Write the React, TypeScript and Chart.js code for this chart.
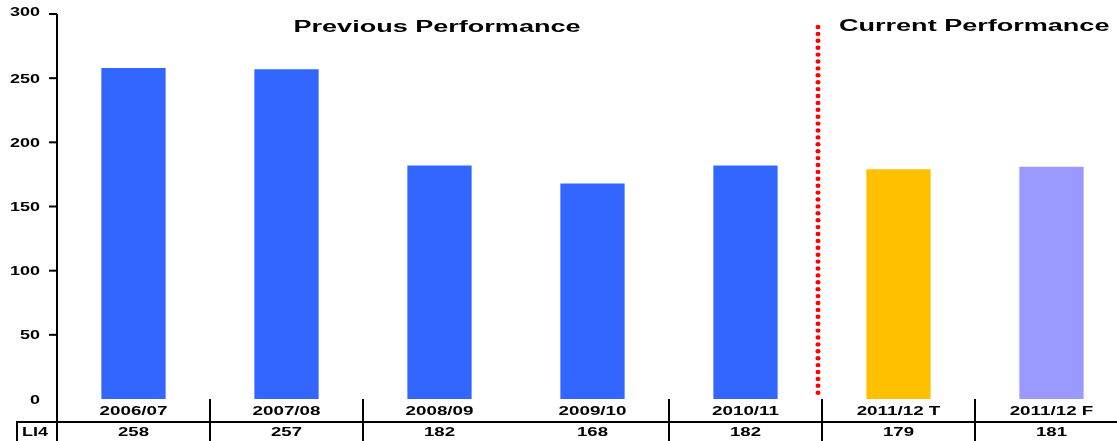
import React, { useEffect, useRef } from "react";
import { Chart, registerables } from "chart.js";

Chart.register(...registerables);

const categories = ["2006/07", "2007/08", "2008/09", "2009/10", "2010/11", "2011/12 T", "2011/12 F"];
const values = [258, 257, 182, 168, 182, 179, 181];
const barColors = ["#3366FF", "#3366FF", "#3366FF", "#3366FF", "#3366FF", "#FFC000", "#9999FF"];
const yTicks = [0, 50, 100, 150, 200, 250, 300];
const rowLabel = "LI4";
const previousTitle = "Previous Performance";
const currentTitle = "Current Performance";
const skippedSeparators = [2];
const splitAfterIndex = 4;

const FONT = "'Liberation Sans', Arial, sans-serif";

function drawStretched(ctx: CanvasRenderingContext2D, text: string, x: number, y: number, sx: number, align: CanvasTextAlign) {
  ctx.save();
  ctx.translate(x, y);
  ctx.scale(sx, 1);
  ctx.textAlign = align;
  ctx.textBaseline = "middle";
  ctx.fillText(text, 0, 0);
  ctx.restore();
}

const tablePlugin = {
  id: "tablePlugin",
  afterDraw(chart: any) {
    const ctx: CanvasRenderingContext2D = chart.ctx;
    const xs = chart.scales.x;
    const ys = chart.scales.y;
    const ca = chart.chartArea;
    const H = chart.height;
    const W = chart.width;
    ctx.save();
    ctx.fillStyle = "#000";
    ctx.strokeStyle = "#000";
    ctx.lineWidth = 2;

    // y axis line
    ctx.beginPath();
    ctx.moveTo(ca.left, ys.getPixelForValue(300));
    ctx.lineTo(ca.left, H);
    ctx.stroke();

    // y ticks and labels
    ctx.font = `bold 13px ${FONT}`;
    const sxTick = 30 / ctx.measureText("250").width;
    yTicks.forEach((v) => {
      const y = ys.getPixelForValue(v);
      if (v !== 0) {
        ctx.beginPath();
        ctx.moveTo(ca.left - 8, y);
        ctx.lineTo(ca.left, y);
        ctx.stroke();
      }
      const ty = v === 300 ? y - 2 : y + 1;
      drawStretched(ctx, String(v), 40, ty, sxTick, "right");
    });

    // table
    const centers = categories.map((_, i) => xs.getPixelForValue(i));
    const step = centers[1] - centers[0];
    ctx.beginPath();
    ctx.moveTo(16, 422);
    ctx.lineTo(W, 422);
    ctx.stroke();
    ctx.beginPath();
    ctx.moveTo(17, 422);
    ctx.lineTo(17, H);
    ctx.stroke();
    for (let i = 0; i < categories.length - 1; i++) {
      if (skippedSeparators.includes(i)) continue;
      const bx = Math.round(centers[i] + step / 2);
      ctx.beginPath();
      ctx.moveTo(bx, 399);
      ctx.lineTo(bx, H);
      ctx.stroke();
    }

    ctx.font = `bold 13px ${FONT}`;
    const sxCat = 68 / ctx.measureText("2006/07").width;
    categories.forEach((c, i) => drawStretched(ctx, c, centers[i], 411.5, sxCat, "center"));
    const sxVal = 31 / ctx.measureText("258").width;
    values.forEach((v, i) => drawStretched(ctx, String(v), centers[i], 432.5, sxVal, "center"));
    const sxLbl = 26 / ctx.measureText(rowLabel).width;
    drawStretched(ctx, rowLabel, 22, 432.5, sxLbl, "left");

    // titles
    ctx.font = `bold 16px ${FONT}`;
    const sxTitle = 287 / ctx.measureText(previousTitle).width;
    drawStretched(ctx, previousTitle, 437, 28, sxTitle, "center");
    drawStretched(ctx, currentTitle, 839, 27, sxTitle, "left");

    // red dotted separator
    const rx = centers[splitAfterIndex] + step / 2 - 4;
    ctx.fillStyle = "#FF0000";
    for (let y = 27; y <= 399; y += 6.9) {
      ctx.beginPath();
      ctx.ellipse(rx, y, 2.5, 2.2, 0, 0, Math.PI * 2);
      ctx.fill();
    }
    ctx.restore();
  },
};

export default function App() {
  const ref = useRef<HTMLCanvasElement | null>(null);
  useEffect(() => {
    if (!ref.current) return;
    const chart = new Chart(ref.current, {
      type: "bar",
      data: {
        labels: categories,
        datasets: [
          {
            data: values,
            backgroundColor: barColors,
            borderWidth: 0,
            categoryPercentage: 1,
            barPercentage: 0.42,
          },
        ],
      },
      options: {
        animation: false,
        responsive: false,
        devicePixelRatio: 1,
        layout: { padding: { left: 57, right: 0, top: 14, bottom: 42 } },
        plugins: { legend: { display: false }, tooltip: { enabled: false }, title: { display: false } },
        scales: {
          x: { display: false, offset: true },
          y: { display: false, min: 0, max: 300 },
        },
      },
      plugins: [tablePlugin],
    });
    return () => chart.destroy();
  }, []);
  return (
    <div style={{ position: "fixed", left: 0, top: 0, width: 1117, height: 441, overflow: "hidden", background: "#fff" }}>
      <canvas ref={ref} width={1128} height={441} style={{ display: "block" }} />
    </div>
  );
}
